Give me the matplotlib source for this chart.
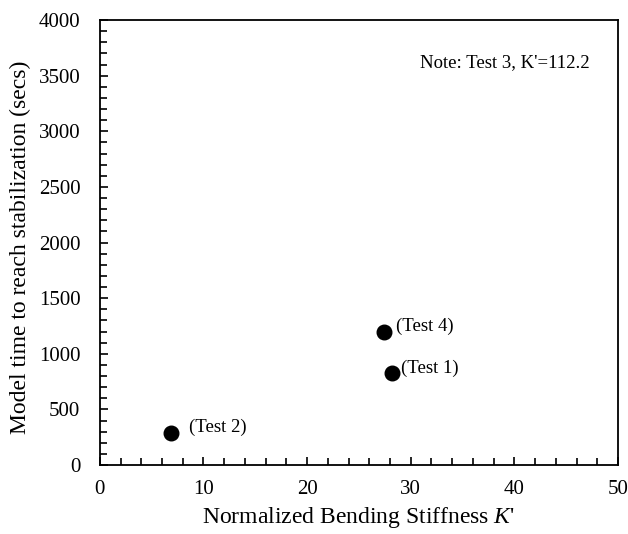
import matplotlib
matplotlib.use('Agg')
import matplotlib.pyplot as plt
from matplotlib import rcParams, ticker

# Data
tests = ['(Test 1)', '(Test 2)', '(Test 4)']
stiffness = [28.15, 6.85, 27.4]
stab_time = [824, 290, 1193]
note = "Note: Test 3, K'=112.2"

rcParams["font.family"] = "Liberation Serif"
rcParams["mathtext.fontset"] = "custom"
rcParams["mathtext.it"] = "Liberation Serif:italic"
rcParams["mathtext.rm"] = "Liberation Serif"

fig = plt.figure(figsize=(6.28, 5.34), dpi=100)
ax = fig.add_axes([0.159, 0.129, 0.825, 0.8335])

ax.scatter(stiffness, stab_time, s=110, color='black', zorder=3)
# label offsets (points) to the right of each marker
offsets = [(7, 4), (13, 4), (9, 4)]
for name, x, y, off in zip(tests, stiffness, stab_time, offsets):
    ax.annotate(name, (x, y), xytext=off, textcoords='offset points',
                fontsize=13.5, va='center', ha='left')

ax.text(0.618, 0.905, note, transform=ax.transAxes, fontsize=13.5, va='center', ha='left')

ax.set_xlim(0, 50)
ax.set_ylim(0, 4000)
ax.xaxis.set_major_locator(ticker.MultipleLocator(10))
ax.xaxis.set_minor_locator(ticker.MultipleLocator(2))
ax.yaxis.set_major_locator(ticker.MultipleLocator(500))
ax.yaxis.set_minor_locator(ticker.MultipleLocator(100))
ax.tick_params(which='both', direction='in', labelsize=15, width=1.2, colors='black')
ax.tick_params(which='major', length=6)
ax.tick_params(which='minor', length=5)
ax.tick_params(axis='x', pad=11)
ax.tick_params(axis='y', pad=14)
for s in ax.spines.values():
    s.set_linewidth(1.3)

ax.set_xlabel("Normalized Bending Stiffness $K$'", fontsize=17, labelpad=4)
ax.set_ylabel("Model time to reach stabilization (secs)", fontsize=17)
ax.yaxis.set_label_coords(-0.133, 0.49)

plt.savefig('out.png', dpi=100)
